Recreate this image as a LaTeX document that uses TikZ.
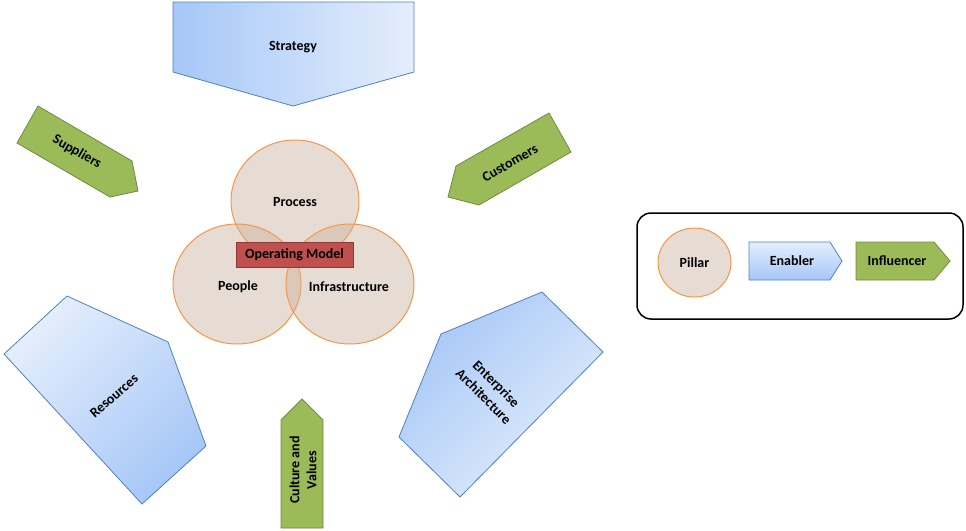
\documentclass[tikz,border=0pt]{standalone}
\usepackage{fontspec}
\setmainfont{Carlito}
\definecolor{enablerdark}{HTML}{A6C7F7}
\definecolor{enablerlight}{HTML}{E4EEFC}
\definecolor{enablerline}{HTML}{4F81BD}
\definecolor{influencerfill}{HTML}{9BBB59}
\definecolor{influencerline}{HTML}{71893F}
\definecolor{pillarfill}{RGB}{202,177,158}
\definecolor{pillarline}{HTML}{F79646}
\definecolor{modelfill}{HTML}{C0504D}
\definecolor{modelline}{HTML}{8C3836}

\begin{document}
\begin{tikzpicture}[x=1pt,y=-1pt,
  enabler/.style={draw=enablerline,line width=0.8pt},
  influencer/.style={draw=influencerline,fill=influencerfill,line width=0.8pt},
  pillar/.style={draw=pillarline,line width=1pt,fill=pillarfill,fill opacity=0.45},
  label/.style={font=\fontsize{14}{18}\selectfont\bfseries,align=center}]
\useasboundingbox (0,0) rectangle (966,530);

% enablers
\draw[enabler,left color=enablerdark,right color=enablerlight]
  (173,2) -- (414,2) -- (414,72) -- (293,106) -- (173,72) -- cycle;
\node[label] (strategy) at (293,47) {Strategy};
\draw[enabler,top color=enablerlight,bottom color=enablerdark,shading angle=45]
  (67,296) -- (168,342) -- (206,446) -- (142,504) -- (4,354) -- cycle;
\node[label,rotate=41] (resources) at (114,396) {Resources};
\draw[enabler,left color=enablerdark,right color=enablerlight,shading angle=45]
  (542,292) -- (603,352) -- (460,497) -- (399,437) -- (441,334) -- cycle;
\node[label,rotate=-45] (architecture) at (490,390) {Enterprise\\Architecture};

% influencers
\draw[influencer] (38,106) -- (132,161) -- (138,191) -- (110,197) -- (17,143) -- cycle;
\node[label,rotate=-30] (suppliers) at (77,152) {Suppliers};
\draw[influencer] (549,113) -- (571,152) -- (479,205) -- (448,197) -- (456,166) -- cycle;
\node[label,rotate=30] (customers) at (510,163) {Customers};
\draw[influencer] (281,420) -- (302,399) -- (323,420) -- (323,528) -- (281,528) -- cycle;
\node[label,font=\fontsize{14}{17}\selectfont\bfseries,rotate=90] (culture) at (303,470) {Culture and\\Values};

% pillars
\draw[pillar] (295,201) ellipse [x radius=64, y radius=61];
\draw[pillar] (237,284) ellipse [x radius=64, y radius=60];
\draw[pillar] (350,284) ellipse [x radius=64, y radius=60];
\node[label] (process) at (295,202) {Process};
\node[label] (people) at (238,287) {People};
\node[label] (infrastructure) at (349,287) {Infrastructure};
\node[label,draw=modelline,fill=modelfill,line width=1pt,minimum width=117pt,
  minimum height=25pt,inner sep=0pt] (model) at (294.5,254.5) {Operating Model};

% legend
\draw[line width=1.5pt,rounded corners=14pt] (637,213) rectangle (963,319);
\draw[pillar] (694.5,262.5) ellipse [x radius=36.5, y radius=34.5];
\node[label] (pillar) at (694.5,263) {Pillar};
\draw[enabler,top color=enablerlight,bottom color=enablerdark]
  (749,242) -- (830,242) -- (842,261) -- (830,280) -- (749,280) -- cycle;
\node[label] (enabler) at (792,261) {Enabler};
\draw[influencer] (856,242) -- (934,242) -- (950,261) -- (934,280) -- (856,280) -- cycle;
\node[label] (influencer) at (897,261) {Influencer};
\end{tikzpicture}
\end{document}
